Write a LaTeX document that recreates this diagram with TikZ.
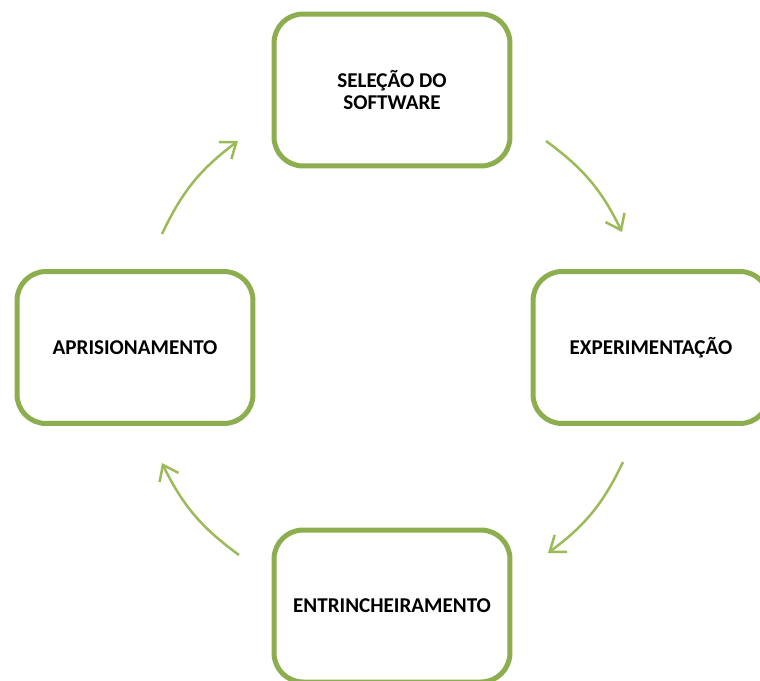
\documentclass[tikz,border=0pt]{standalone}
\usepackage{fontspec}
\setmainfont{Carlito}
\usetikzlibrary{arrows.meta}
\definecolor{boxgreen}{HTML}{8DAE4F}
\definecolor{arrowgreen}{HTML}{9BBB59}
\tikzset{
  stage/.style={draw=boxgreen, line width=0.1cm, rounded corners=0.58cm,
    minimum width=4.72cm, minimum height=3.04cm, align=center, fill=white,
    font=\fontsize{12}{12.5}\selectfont\bfseries},
  flow/.style={draw=arrowgreen, line width=0.05cm,
    -{Straight Barb[length=0.28cm,width=0.42cm]}}
}
\begin{document}
\begin{tikzpicture}[x=0.02cm, y=-0.02cm]
  \useasboundingbox (0,0) rectangle (760,680);
  \node [stage] (sel) at (392,90) {SELEÇÃO DO\\SOFTWARE};
  \node [stage] (exp) at (651,347.5) {EXPERIMENTAÇÃO};
  \node [stage] (ent) at (392,606) {ENTRINCHEIRAMENTO};
  \node [stage] (apr) at (135,347.5) {APRISIONAMENTO};
  % arrow ends
  \coordinate (s1) at (546,141);
  \coordinate (e1) at (622,232);
  \coordinate (s2) at (623,462);
  \coordinate (e2) at (548,553);
  \coordinate (s3) at (239,555);
  \coordinate (e3) at (162,463);
  \coordinate (s4) at (162,234);
  \coordinate (e4) at (238,141);
  \draw [flow] (s1) to [bend left=14] (e1);
  \draw [flow] (s2) to [bend left=14] (e2);
  \draw [flow] (s3) to [bend left=14] (e3);
  \draw [flow] (s4) to [bend left=14] (e4);
\end{tikzpicture}
\end{document}
